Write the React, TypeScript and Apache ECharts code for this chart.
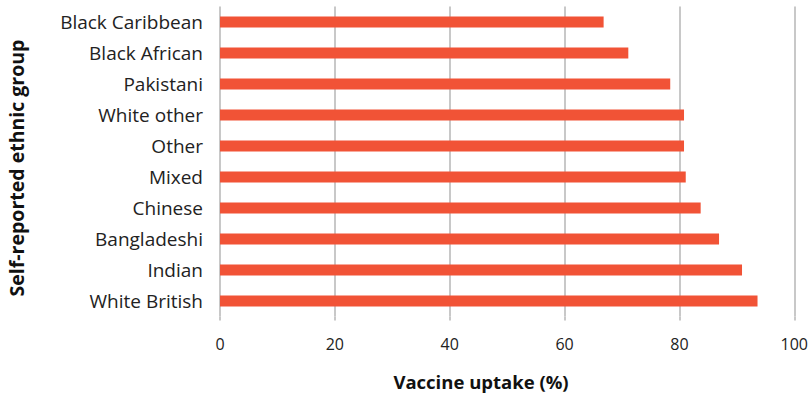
import React, { useEffect, useRef } from "react";
import * as echarts from "echarts";

// Ethnic groups, listed top to bottom as drawn
const groups = [
  "Black Caribbean",
  "Black African",
  "Pakistani",
  "White other",
  "Other",
  "Mixed",
  "Chinese",
  "Bangladeshi",
  "Indian",
  "White British",
];

// Vaccine uptake (%) for each group, same order
const uptake = [66.8, 71.1, 78.4, 80.8, 80.8, 81.1, 83.7, 86.9, 90.9, 93.6];

const xTicks = [0, 20, 40, 60, 80, 100];

const FONT = "'Open Sans', Lato, sans-serif";

export default function App() {
  const ref = useRef<HTMLDivElement>(null);

  useEffect(() => {
    document.body.style.margin = "0";
    document.body.style.overflow = "hidden";
    if (!ref.current) return;
    const chart = echarts.init(ref.current, null, { renderer: "svg" });
    chart.setOption({
      animation: false,
      backgroundColor: "#ffffff",
      grid: { left: 220, right: 16.5, top: 6.5, bottom: 76.5, containLabel: false },
      xAxis: {
        type: "value",
        min: xTicks[0],
        max: xTicks[xTicks.length - 1],
        interval: 20,
        axisLine: { show: false },
        axisTick: { show: true, length: 4, lineStyle: { color: "#c8c8c8", width: 2 } },
        splitLine: { show: true, lineStyle: { color: "#c8c8c8", width: 2 } },
        axisLabel: {
          margin: 19,
          color: "#222222",
          fontFamily: FONT,
          fontSize: 16,
        },
      },
      yAxis: {
        type: "category",
        data: groups,
        inverse: true,
        axisLine: { show: false },
        axisTick: { show: false },
        axisLabel: {
          margin: 17,
          color: "#222222",
          fontFamily: FONT,
          fontSize: 19,
        },
      },
      graphic: [
        {
          type: "text",
          x: 481,
          y: 381,
          style: {
            text: "Vaccine uptake (%)",
            fill: "#111111",
            font: `bold 18.5px ${FONT}`,
            align: "center",
            verticalAlign: "middle",
          },
        },
        {
          type: "text",
          x: 16,
          y: 168,
          rotation: Math.PI / 2,
          style: {
            text: "Self-reported ethnic group",
            fill: "#111111",
            font: `bold 19.5px ${FONT}`,
            align: "center",
            verticalAlign: "middle",
          },
        },
      ],
      series: [
        {
          type: "bar",
          data: uptake,
          barWidth: 11,
          itemStyle: { color: "#f15336" },
        },
      ],
    });
    return () => chart.dispose();
  }, []);

  return (
    <div
      ref={ref}
      style={{ position: "absolute", left: 0, top: 0, width: 811, height: 393 }}
    />
  );
}
